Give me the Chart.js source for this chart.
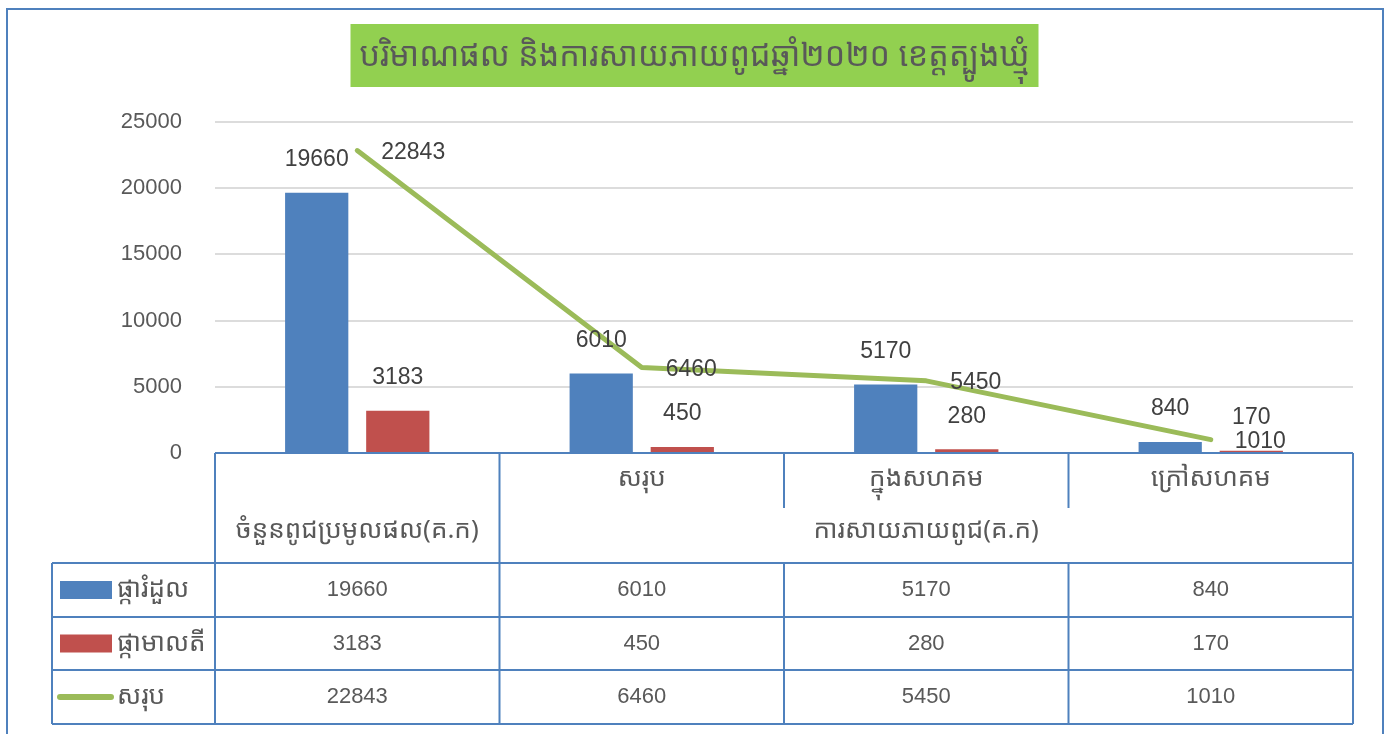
<!DOCTYPE html>
<html>
<head>
<meta charset="utf-8">
<script src="https://cdn.jsdelivr.net/npm/chart.js@4"></script>
<style>
  html, body { margin: 0; padding: 0; background: #fff; }
  #wrap { width: 1389px; height: 734px; }
</style>
</head>
<body>
<div id="wrap"><canvas id="grafico" width="1389" height="734"></canvas></div>
<script>
// datos del grafico
const titulo = 'បរិមាណផល និងការសាយភាយពូជឆ្នាំ២០២០ ខេត្តត្បូងឃ្មុំ';
const categorias = ['', 'សរុប', 'ក្នុងសហគម', 'ក្រៅសហគម'];
const grupos = ['ចំនួនពូជប្រមូលផល(គ.ក)', 'ការសាយភាយពូជ(គ.ក)'];
const gruposSpan = [1, 3];
const series = ['ផ្ការំដួល', 'ផ្កាមាលតី', 'សរុប'];
const rumduol = [19660, 6010, 5170, 840];
const malis = [3183, 450, 280, 170];
const total = [22843, 6460, 5450, 1010];
const yMax = 25000;
const yPaso = 5000;

const azul = '#4f81bd';
const rojo = '#c0504d';
const verde = '#9bbb59';
const gris = '#595959';
const fuenteNum = '"Liberation Sans", Arial, sans-serif';
const fuenteKh = '"Noto Sans Khmer", "Khmer OS", "Noto Sans", sans-serif';

// marco, titulo y tabla de datos
const pluginTabla = {
    id: 'tabla',
    beforeDraw(chart) {
        const ctx = chart.ctx;
        ctx.save();
        ctx.fillStyle = '#fff';
        ctx.fillRect(0, 0, chart.width, chart.height);
        ctx.strokeStyle = azul;
        ctx.lineWidth = 2;
        ctx.strokeRect(7, 9, 1376, 800);
        // titulo
        ctx.fillStyle = '#92d050';
        ctx.fillRect(chart.width / 2 - 344, 24, 688, 63);
        ctx.fillStyle = gris;
        ctx.font = '34px ' + fuenteKh;
        ctx.textAlign = 'center';
        ctx.textBaseline = 'middle';
        ctx.fillText(titulo, chart.width / 2, 56, 670);
        ctx.restore();
    },
    afterDraw(chart) {
        const ctx = chart.ctx;
        const xs = chart.scales.x;
        const area = chart.chartArea;
        const mitad = (xs.getPixelForValue(1) - xs.getPixelForValue(0)) / 2;
        const izq = area.left, der = area.right, arriba = area.bottom;
        const filas = [563, 617, 670, 724];
        const medio = 508;
        const cajaIzq = 52;

        ctx.save();
        ctx.strokeStyle = azul;
        ctx.lineWidth = 2;
        ctx.beginPath();
        ctx.moveTo(izq, arriba); ctx.lineTo(der, arriba);
        filas.forEach(y => { ctx.moveTo(cajaIzq, y); ctx.lineTo(der, y); });
        ctx.moveTo(cajaIzq, filas[0]); ctx.lineTo(cajaIzq, filas[3]);
        ctx.moveTo(izq, arriba); ctx.lineTo(izq, filas[3]);
        ctx.moveTo(der, arriba); ctx.lineTo(der, filas[3]);
        // separadores de columnas
        let acum = 0;
        const limitesGrupo = gruposSpan.map(n => (acum += n));
        for (let i = 1; i < categorias.length; i++) {
            const x = xs.getPixelForValue(i) - mitad;
            if (limitesGrupo.includes(i)) {
                ctx.moveTo(x, arriba); ctx.lineTo(x, filas[3]);
            } else {
                ctx.moveTo(x, arriba); ctx.lineTo(x, medio);
                ctx.moveTo(x, filas[0]); ctx.lineTo(x, filas[3]);
            }
        }
        ctx.stroke();

        // etiquetas de categorias
        ctx.fillStyle = gris;
        ctx.textAlign = 'center';
        ctx.textBaseline = 'middle';
        ctx.font = '26px ' + fuenteKh;
        categorias.forEach((c, i) => {
            if (c) ctx.fillText(c, xs.getPixelForValue(i), 479);
        });
        let ini = 0;
        grupos.forEach((g, k) => {
            const fin = ini + gruposSpan[k] - 1;
            const cx = (xs.getPixelForValue(ini) + xs.getPixelForValue(fin)) / 2;
            ctx.fillText(g, cx, 531);
            ini = fin + 1;
        });

        // filas de valores
        const datos = [rumduol, malis, total];
        const colores = [azul, rojo, verde];
        datos.forEach((serie, r) => {
            const cy = (filas[r] + filas[r + 1]) / 2;
            // clave de leyenda
            if (r < 2) {
                ctx.fillStyle = colores[r];
                ctx.fillRect(60, cy - 9, 52, 18);
            } else {
                ctx.strokeStyle = colores[r];
                ctx.lineWidth = 6;
                ctx.lineCap = 'round';
                ctx.beginPath();
                ctx.moveTo(60, cy); ctx.lineTo(111, cy);
                ctx.stroke();
            }
            ctx.fillStyle = gris;
            ctx.textAlign = 'left';
            ctx.font = '26px ' + fuenteKh;
            ctx.fillText(series[r], 117, cy);
            ctx.textAlign = 'center';
            ctx.font = '22px ' + fuenteNum;
            serie.forEach((v, i) => ctx.fillText(String(v), xs.getPixelForValue(i), cy));
        });
        ctx.restore();
    }
};

// etiquetas de datos
const pluginEtiquetas = {
    id: 'etiquetas',
    afterDatasetsDraw(chart) {
        const ctx = chart.ctx;
        ctx.save();
        ctx.fillStyle = '#404040';
        ctx.font = '23px ' + fuenteNum;
        ctx.textBaseline = 'middle';
        chart.data.datasets.forEach((ds, d) => {
            const meta = chart.getDatasetMeta(d);
            meta.data.forEach((el, i) => {
                const txt = String(ds.data[i]);
                if (ds.type === 'line') {
                    ctx.textAlign = 'left';
                    ctx.fillText(txt, el.x + 24, el.y + 2);
                } else {
                    ctx.textAlign = 'center';
                    ctx.fillText(txt, el.x, el.y - 33);
                }
            });
        });
        ctx.restore();
    }
};

let grafico = new Chart(document.getElementById('grafico'), {
    type: 'bar',
    data: {
        labels: categorias,
        datasets: [
            {
                label: series[0],
                data: rumduol,
                backgroundColor: azul,
                categoryPercentage: 0.57,
                barPercentage: 0.78,
                order: 1
            },
            {
                label: series[1],
                data: malis,
                backgroundColor: rojo,
                categoryPercentage: 0.57,
                barPercentage: 0.78,
                order: 1
            },
            {
                type: 'line',
                label: series[2],
                data: total,
                borderColor: verde,
                borderWidth: 5,
                borderCapStyle: 'round',
                borderJoinStyle: 'round',
                pointRadius: 0,
                tension: 0,
                fill: false,
                order: 0
            }
        ]
    },
    options: {
        responsive: false,
        animation: false,
        events: [],
        layout: { padding: { left: 0, right: 36, top: 122, bottom: 281 } },
        plugins: {
            legend: { display: false },
            title: { display: false },
            tooltip: { enabled: false }
        },
        scales: {
            x: { display: false },
            y: {
                min: 0,
                max: yMax,
                border: { display: false },
                grid: { color: '#dcdcdc', lineWidth: 2, drawTicks: false },
                ticks: {
                    stepSize: yPaso,
                    padding: 33,
                    color: gris,
                    font: { size: 22, family: fuenteNum },
                    callback: v => String(v)
                },
                afterFit(scale) { scale.width = 215; }
            }
        }
    },
    plugins: [pluginTabla, pluginEtiquetas]
});
</script>
</body>
</html>
